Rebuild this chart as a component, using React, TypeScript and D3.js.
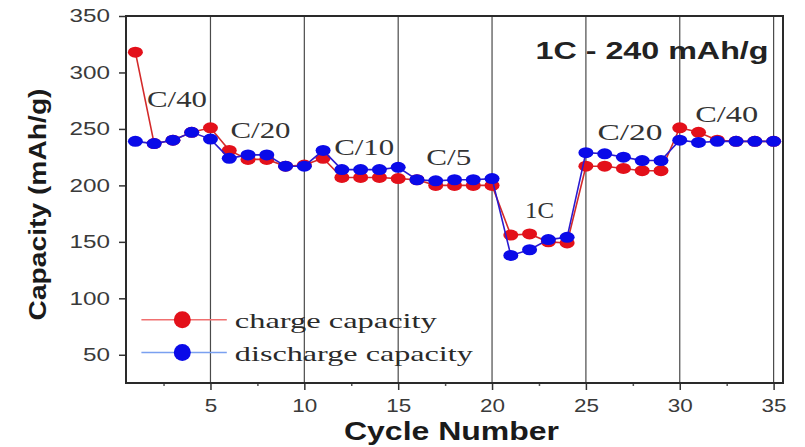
import React, { useRef, useEffect } from 'react';
import * as d3 from 'd3';

const cycles = d3.range(1, 36);
const chargeCapacity = [318, 237, 240, 247, 251, 231, 223, 223, 217, 218, 224, 207, 207, 207, 206, 205, 200, 200, 200, 200, 156, 157, 150, 149, 217, 217, 215, 213, 213, 251, 247, 240, 239, 239, 239];
const dischargeCapacity = [239, 237, 240, 247, 241, 224, 227, 227, 217, 217, 231, 214, 214, 214, 216, 205, 204, 205, 205, 206, 138, 143, 152, 154, 229, 228, 225, 222, 222, 240, 238, 239, 239, 239, 239];
const yTicks = [50, 100, 150, 200, 250, 300, 350];
const xTicks = [5, 10, 15, 20, 25, 30, 35];
const xMinorTicks = [2.5, 7.5, 12.5, 17.5, 22.5, 27.5, 32.5];

// rate labels: [text, cycle, capacity, stretched width]
const rateLabels: [string, number, number, number][] = [
  ['C/40', 1.62, 269, 60],
  ['C/20', 6.07, 242, 60],
  ['C/10', 11.59, 227, 60],
  ['C/5', 16.5, 218, 45],
  ['1C', 21.76, 171, 29],
  ['C/20', 25.62, 240, 65],
  ['C/40', 30.82, 256, 63],
];

const series = [
  { name: 'charge capacity', values: chargeCapacity, color: '#e3101a', line: '#d42a2a', legendLine: '#f07070', legendY: 81 },
  { name: 'discharge capacity', values: dischargeCapacity, color: '#0a0ae8', line: '#2a1ad0', legendLine: '#7aa0f0', legendY: 52 },
];

const W = 805;
const H = 447;
const margin = { top: 16, right: 22, bottom: 64, left: 126 };

const App = () => {
  const svgRef = useRef<SVGSVGElement>(null);

  useEffect(() => {
    if (!svgRef.current) return;
    const svg = d3.select(svgRef.current);
    svg.selectAll('*').remove();

    const x = d3.scaleLinear().domain([0.5, 35.5]).range([margin.left, W - margin.right]);
    const y = d3.scaleLinear().domain([25, 350]).range([H - margin.bottom, margin.top]);

    svg.append('rect').attr('width', W).attr('height', H).attr('fill', '#fff');

    // --- vertical grid lines between rate steps ---
    svg.append('g')
      .selectAll('line')
      .data(xTicks)
      .join('line')
      .attr('x1', d => x(d))
      .attr('x2', d => x(d))
      .attr('y1', y(350))
      .attr('y2', y(25))
      .attr('stroke', '#4a4a4a')
      .attr('stroke-width', 1.2);

    // --- axes ---
    const yAxis = svg.append('g')
      .attr('transform', `translate(${margin.left},0)`)
      .call(d3.axisLeft(y).tickValues(yTicks).tickSize(7).tickPadding(9));
    yAxis.select('.domain').remove();
    yAxis.selectAll('line').attr('stroke', '#333').attr('stroke-width', 1.5);
    yAxis.selectAll('text')
      .attr('font-family', 'Arial, "Liberation Sans", sans-serif')
      .attr('font-size', 18)
      .attr('fill', '#3a3a3a')
      .attr('textLength', (d: any) => String(d).length * 13.5)
      .attr('lengthAdjust', 'spacingAndGlyphs');

    const xAxis = svg.append('g')
      .attr('transform', `translate(0,${H - margin.bottom})`)
      .call(d3.axisBottom(x).tickValues(xTicks).tickSize(7).tickPadding(9));
    xAxis.select('.domain').remove();
    xAxis.selectAll('line').attr('stroke', '#333').attr('stroke-width', 1.5);
    xAxis.selectAll('text')
      .attr('font-family', 'Arial, "Liberation Sans", sans-serif')
      .attr('font-size', 18)
      .attr('fill', '#3a3a3a')
      .attr('textLength', (d: any) => String(d).length * 12.5)
      .attr('lengthAdjust', 'spacingAndGlyphs');

    svg.append('g')
      .attr('transform', `translate(0,${H - margin.bottom})`)
      .call(d3.axisBottom(x).tickValues(xMinorTicks).tickSize(3).tickFormat(() => ''))
      .call(g => g.select('.domain').remove())
      .selectAll('line').attr('stroke', '#555').attr('stroke-width', 1.5);

    // frame
    svg.append('rect')
      .attr('x', x(0.5))
      .attr('y', y(350))
      .attr('width', x(35.5) - x(0.5))
      .attr('height', y(25) - y(350))
      .attr('fill', 'none')
      .attr('stroke', '#2a2a2a')
      .attr('stroke-width', 2);

    // --- series ---
    series.forEach(s => {
      const line = d3.line<number>()
        .x((_, i) => x(cycles[i]))
        .y(d => y(d));
      svg.append('path')
        .datum(s.values)
        .attr('fill', 'none')
        .attr('stroke', s.line)
        .attr('stroke-width', 1.6)
        .attr('d', line);
      svg.append('g')
        .selectAll('ellipse')
        .data(s.values)
        .join('ellipse')
        .attr('cx', (_, i) => x(cycles[i]))
        .attr('cy', d => y(d))
        .attr('rx', 7.5)
        .attr('ry', 5.5)
        .attr('fill', s.color);
    });

    // --- rate labels ---
    svg.append('g')
      .selectAll('text')
      .data(rateLabels)
      .join('text')
      .attr('x', d => x(d[1]))
      .attr('y', d => y(d[2]))
      .attr('font-family', '"Liberation Serif", "Times New Roman", serif')
      .attr('font-size', 23)
      .attr('fill', '#333')
      .attr('textLength', d => d[3])
      .attr('lengthAdjust', 'spacingAndGlyphs')
      .text(d => d[0]);

    svg.append('text')
      .attr('x', x(34.73))
      .attr('y', y(312))
      .attr('text-anchor', 'end')
      .attr('font-family', 'Arial, "Liberation Sans", sans-serif')
      .attr('font-weight', 'bold')
      .attr('font-size', 23)
      .attr('fill', '#222')
      .attr('textLength', 233)
      .attr('lengthAdjust', 'spacingAndGlyphs')
      .text('1C - 240 mAh/g');

    // --- legend ---
    const legend = svg.append('g');
    series.forEach((s, i) => {
      const ly = y(s.legendY);
      legend.append('line')
        .attr('x1', x(1.32)).attr('x2', x(5.87))
        .attr('y1', ly).attr('y2', ly)
        .attr('stroke', s.legendLine)
        .attr('stroke-width', 1.5);
      legend.append('circle')
        .attr('cx', x(3.5)).attr('cy', ly)
        .attr('r', 8.5)
        .attr('fill', s.color);
      legend.append('text')
        .attr('x', x(6.3)).attr('y', ly + 8)
        .attr('font-family', '"Liberation Serif", "Times New Roman", serif')
        .attr('font-size', 22)
        .attr('fill', '#2a2a2a')
        .attr('textLength', i === 0 ? 202 : 238)
        .attr('lengthAdjust', 'spacingAndGlyphs')
        .text(s.name);
    });

    // --- axis titles ---
    svg.append('text')
      .attr('x', (x(0.5) + x(35.5)) / 2 - 3)
      .attr('y', 440)
      .attr('text-anchor', 'middle')
      .attr('font-family', 'Arial, "Liberation Sans", sans-serif')
      .attr('font-weight', 'bold')
      .attr('font-size', 25)
      .attr('fill', '#1a1a1a')
      .attr('textLength', 215)
      .attr('lengthAdjust', 'spacingAndGlyphs')
      .text('Cycle Number');

    svg.append('text')
      .attr('transform', `translate(46,${(y(25) + y(350)) / 2 + 5}) rotate(-90)`)
      .attr('text-anchor', 'middle')
      .attr('font-family', 'Arial, "Liberation Sans", sans-serif')
      .attr('font-weight', 'bold')
      .attr('font-size', 23)
      .attr('fill', '#1a1a1a')
      .attr('textLength', 232)
      .attr('lengthAdjust', 'spacingAndGlyphs')
      .text('Capacity (mAh/g)');
  }, []);

  return (
    <svg
      ref={svgRef}
      width={W}
      height={H}
      style={{ position: 'absolute', left: 0, top: 0, display: 'block' }}
    />
  );
};

export default App;
